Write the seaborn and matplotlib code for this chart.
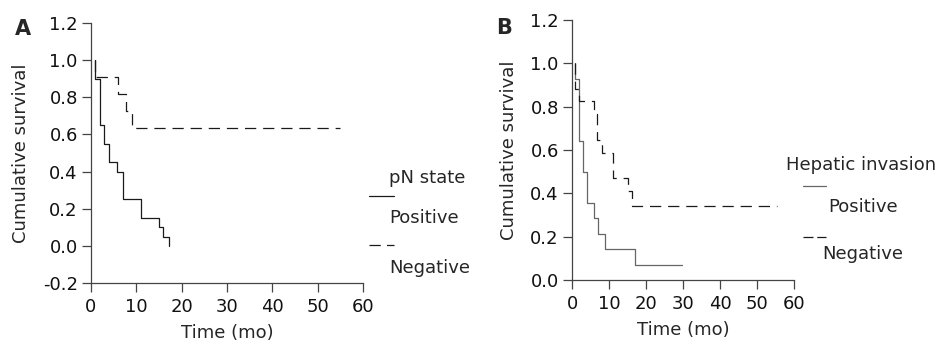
import matplotlib
matplotlib.use('Agg')
import matplotlib.pyplot as plt
from matplotlib.lines import Line2D
import pandas as pd
import seaborn as sns

# Kaplan-Meier step values
a_pos_time = [0.8, 0.8, 2.0, 2.8, 4.0, 5.8, 7.0, 11.0, 14.9, 15.9, 17.1, 17.1]
a_pos_surv = [1.0, 0.90, 0.65, 0.55, 0.45, 0.40, 0.25, 0.15, 0.10, 0.05, 0.0, 0.0]
a_neg_time = [0.8, 0.8, 6.0, 7.8, 9.0, 55.0]
a_neg_surv = [1.0, 0.909, 0.818, 0.727, 0.636, 0.636]

b_pos_time = [0.7, 0.9, 2.0, 3.1, 4.0, 5.9, 7.0, 9.0, 17.1, 29.7]
b_pos_surv = [1.0, 0.929, 0.643, 0.50, 0.357, 0.286, 0.214, 0.143, 0.071, 0.071]
b_neg_time = [0.7, 0.9, 2.0, 5.9, 6.8, 8.2, 11.0, 15.0, 16.2, 55.3]
b_neg_surv = [1.0, 0.88, 0.824, 0.765, 0.647, 0.588, 0.471, 0.412, 0.34, 0.34]

x_ticks = [0, 10, 20, 30, 40, 50, 60]
a_y_ticks = [-0.2, 0.0, 0.2, 0.4, 0.6, 0.8, 1.0, 1.2]
b_y_ticks = [0.0, 0.2, 0.4, 0.6, 0.8, 1.0, 1.2]

sns.set_style('ticks')
plt.rcParams['font.family'] = ['DejaVu Sans']
plt.rcParams['axes.unicode_minus'] = False

FS = 13
DASH = (0, (9, 5.5))

fig = plt.figure(figsize=(9.43, 3.5), dpi=100)
ax_a = fig.add_axes([0.0965, 0.1914, 0.2884, 0.743])
ax_b = fig.add_axes([0.6066, 0.2, 0.2354, 0.743])


def km_line(ax, t, s, color, ls):
    df = pd.DataFrame({'t': t, 's': s})
    sns.lineplot(data=df, x='t', y='s', ax=ax, estimator=None, sort=False,
                 drawstyle='steps-post', color=color, linestyle=ls, linewidth=0.9)


km_line(ax_a, a_pos_time, a_pos_surv, '#1a1a1a', '-')
km_line(ax_a, a_neg_time, a_neg_surv, '#1a1a1a', DASH)
km_line(ax_b, b_pos_time, b_pos_surv, '#666666', '-')
km_line(ax_b, b_neg_time, b_neg_surv, '#1a1a1a', DASH)


def style_axes(ax, yticks, ylim):
    ax.set_xlim(0, 60)
    ax.set_ylim(*ylim)
    ax.set_xticks(x_ticks)
    ax.set_yticks(yticks)
    ax.set_yticklabels([f'{v:.1f}' for v in yticks])
    for side in ['top', 'right']:
        ax.spines[side].set_visible(False)
    for side in ['left', 'bottom']:
        ax.spines[side].set_color('#444444')
        ax.spines[side].set_linewidth(0.9)
    ax.tick_params(direction='out', length=6.5, width=0.9, color='#444444',
                   labelsize=FS, labelcolor='#111111', pad=3)
    ax.tick_params(axis='x', pad=4)
    ax.set_xlabel('Time (mo)', fontsize=FS, labelpad=6)
    ax.set_ylabel('Cumulative survival', fontsize=FS, labelpad=9)


style_axes(ax_a, a_y_ticks, (-0.2, 1.2))
style_axes(ax_b, b_y_ticks, (0.0, 1.2))

fig.text(15 / 943, 1 - 29 / 350, 'A', fontsize=15, fontweight='bold', va='center')
fig.text(496 / 943, 1 - 28 / 350, 'B', fontsize=15, fontweight='bold', va='center')

# legend A
fig.text(389 / 943, 1 - 178 / 350, 'pN state', fontsize=FS, va='center')
fig.add_artist(Line2D([369 / 943, 394 / 943], [1 - 196 / 350] * 2,
                      color='#1a1a1a', lw=0.9, transform=fig.transFigure))
fig.text(389 / 943, 1 - 218 / 350, 'Positive', fontsize=FS, va='center')
fig.add_artist(Line2D([369 / 943, 394 / 943], [1 - 245 / 350] * 2,
                      color='#1a1a1a', lw=0.9, ls=(0, (9, 5)), transform=fig.transFigure))
fig.text(389 / 943, 1 - 268 / 350, 'Negative', fontsize=FS, va='center')

# legend B
fig.text(786 / 943, 1 - 165 / 350, 'Hepatic invasion', fontsize=FS, va='center')
fig.add_artist(Line2D([803 / 943, 826 / 943], [1 - 186 / 350] * 2,
                      color='#666666', lw=0.9, transform=fig.transFigure))
fig.text(828 / 943, 1 - 207 / 350, 'Positive', fontsize=FS, va='center')
fig.add_artist(Line2D([803 / 943, 826 / 943], [1 - 237 / 350] * 2,
                      color='#1a1a1a', lw=0.9, ls=(0, (8, 3)), transform=fig.transFigure))
fig.text(822 / 943, 1 - 254 / 350, 'Negative', fontsize=FS, va='center')

fig.savefig('out.png', dpi=100)
